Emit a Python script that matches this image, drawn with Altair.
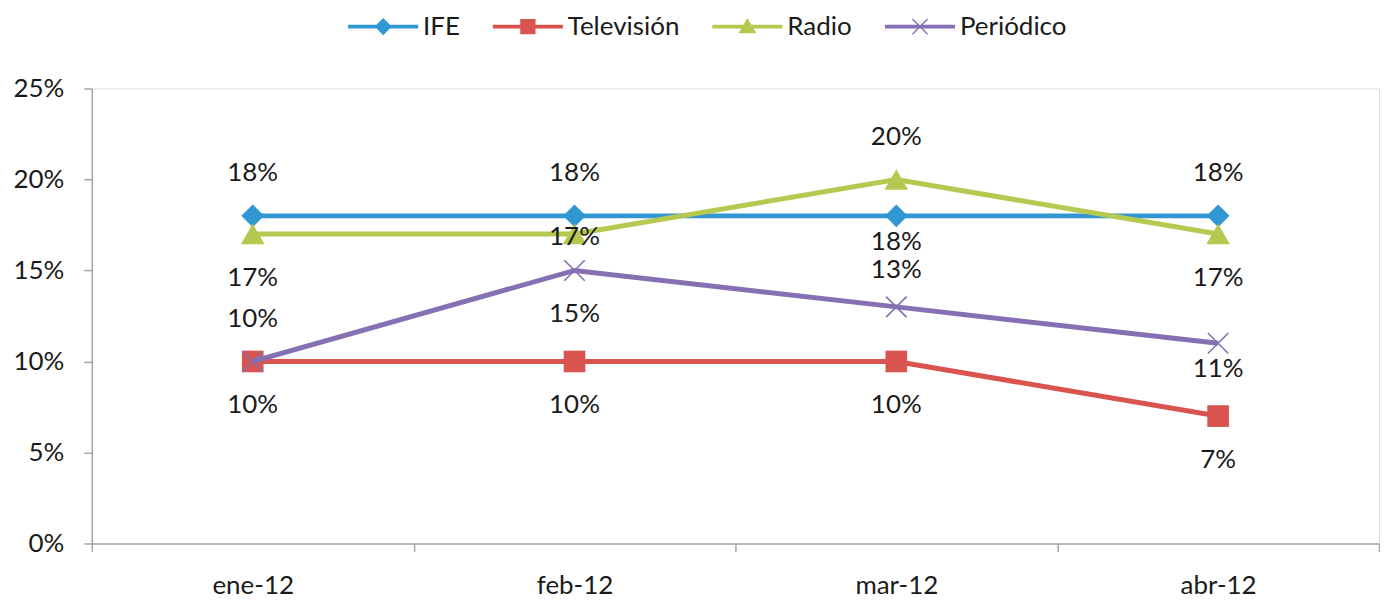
import altair as alt
import pandas as pd

# ---------------- data ----------------
months = ["ene-12", "feb-12", "mar-12", "abr-12"]
series_names = ["IFE", "Televisión", "Radio", "Periódico"]
ife = [0.18, 0.18, 0.18, 0.18]
television = [0.10, 0.10, 0.10, 0.07]
radio = [0.17, 0.17, 0.20, 0.17]
periodico = [0.10, 0.15, 0.13, 0.11]
label_pos = {
    "IFE": ["above", "above", "below_near", "above"],
    "Televisión": ["below", "below", "below", "below"],
    "Radio": ["below", "center", "above", "below"],
    "Periódico": ["above", "below", "above_near", "below_near"],
}
y_ticks = [0, 0.05, 0.10, 0.15, 0.20, 0.25]

# ---------------- styles ----------------
colors = ["#3197D3", "#D9534F", "#B5C84F", "#8470B2"]
marker_shapes = ["diamond", "square", "triangle-up", "M-1,-1L1,1M-1,1L1,-1"]
marker_filled = [True, True, True, False]
marker_sizes = [520, 470, 560, 420]
label_dy = {"above": -43, "below": 44, "center": 3, "below_near": 26, "above_near": -37}

LINE = "M-3.9,-0.22H3.9V0.22H-3.9Z"
legend_paths = [
    LINE + "M0,-0.95L0.95,0L0,0.95L-0.95,0Z",
    LINE + "M-0.85,-0.85H0.85V0.85H-0.85Z",
    LINE + "M0,-0.95L1.0,0.75L-1.0,0.75Z",
    LINE + "M-0.9,-0.8L-0.8,-0.9L0.9,0.8L0.8,0.9Z"
    + "M-0.8,0.9L-0.9,0.8L0.8,-0.9L0.9,-0.8Z",
]

FONT = "Lato"
FS = 26
TXT = "#1a1a1a"
AXC = "#A6A6A6"
W, H = 1290, 456

rows = []
for name, vals in zip(series_names, [ife, television, radio, periodico]):
    for m, v, p in zip(months, vals, label_pos[name]):
        rows.append({"serie": name, "mes": m, "valor": v, "pos": p})
df = pd.DataFrame(rows)

x_enc = alt.X(
    "mes:N",
    sort=months,
    scale=alt.Scale(type="band", domain=months, paddingInner=0, paddingOuter=0),
    axis=alt.Axis(
        title=None, labelAngle=0, tickBand="extent", tickSize=8, labelPadding=21,
        labelFont=FONT, labelFontSize=FS, labelColor=TXT,
        domainColor=AXC, tickColor=AXC, domainWidth=1.5, tickWidth=1.5,
    ),
)
y_enc = alt.Y(
    "valor:Q",
    scale=alt.Scale(domain=[0, 0.25], nice=False, zero=True),
    axis=alt.Axis(
        title=None, values=y_ticks, format=".0%", grid=False, tickSize=8,
        labelPadding=20, labelFont=FONT, labelFontSize=FS, labelColor=TXT,
        domainColor=AXC, tickColor=AXC, domainWidth=1.5, tickWidth=1.5,
    ),
)

layers = []
for name, col, shp, fil, sz in zip(series_names, colors, marker_shapes, marker_filled, marker_sizes):
    base = alt.Chart(df).transform_filter(alt.datum.serie == name)
    layers.append(base.mark_line(color=col, strokeWidth=5).encode(x=x_enc, y=y_enc))
    if fil:
        pt = base.mark_point(shape=shp, filled=True, color=col, size=sz, opacity=1)
    else:
        pt = base.mark_point(shape=shp, filled=False, color=col, size=sz, strokeWidth=1.6, opacity=1)
    layers.append(pt.encode(x=x_enc, y=y_enc))

for pos, dy in label_dy.items():
    layers.append(
        alt.Chart(df)
        .transform_filter(alt.datum.pos == pos)
        .mark_text(font=FONT, fontSize=FS, color=TXT, dy=dy, baseline="middle", align="center")
        .encode(x=x_enc, y=y_enc, text=alt.Text("valor:Q", format=".0%"))
    )

legend_df = pd.DataFrame({"serie": series_names})
leg = alt.Legend(
    title=None, orient="none", direction="horizontal", legendX=279, legendY=-75,
    labelFont=FONT, labelFontSize=FS, labelColor=TXT, symbolSize=324,
    symbolStrokeWidth=0, symbolOpacity=1, labelOffset=27, columnPadding=32,
)
layers.append(
    alt.Chart(legend_df)
    .mark_point(filled=True, size=0, opacity=1)
    .encode(
        color=alt.Color("serie:N", sort=series_names,
                        scale=alt.Scale(domain=series_names, range=colors), legend=leg),
        shape=alt.Shape("serie:N", sort=series_names,
                        scale=alt.Scale(domain=series_names, range=legend_paths), legend=leg),
    )
)

chart = (
    alt.layer(*layers)
    .properties(width=W, height=H,
                padding={"left": 5, "top": 5, "right": 0, "bottom": 0})
    .configure_view(stroke=None)
    .configure(font=FONT)
)

chart.save("out.html", embed_options={"renderer": "svg", "actions": False})
